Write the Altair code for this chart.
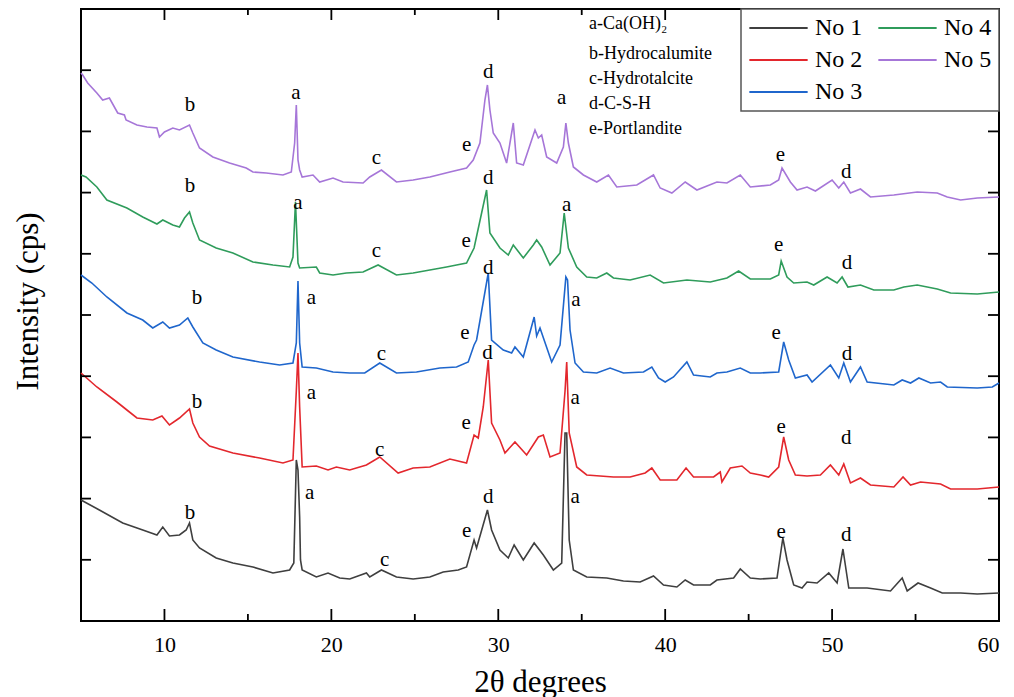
import altair as alt
import pandas as pd

# 2-theta (degrees) vs intensity (arbitrary cps, stacked offsets)
NO1 = [(5.0,121),(6.1,111),(7.5,98),(8.7,91),(9.55,86),(9.9,94),(10.3,85),(10.9,86),(11.3,91),(11.5,98),
       (11.7,81),(12.1,73),(13.1,63),(14.1,58),(15.3,54),(16.5,48),(17.5,51),(17.75,58),(17.9,161),(18.0,151),
       (18.1,104),(18.15,61),(18.25,51),(19.1,44),(19.8,48),(20.5,43),(21.1,42),(22.1,48),(22.3,44),(23.0,51),
       (23.9,44),(24.9,42),(25.9,44),(26.7,49),(27.6,51),(28.1,54),(28.55,81),(28.7,73),(29.35,111),(29.6,91),
       (30.1,71),(30.6,63),(30.95,76),(31.5,61),(32.15,78),(32.7,66),(33.3,51),(33.8,58),(34.0,188),(34.1,188),
       (34.25,81),(34.5,51),(35.3,44),(36.5,43),(37.5,40),(38.5,39),(39.3,45),(39.9,36),(40.7,34),(41.2,41),
       (41.7,36),(42.7,36),(43.1,41),(44.1,43),(44.5,52),(45.1,43),(45.7,42),(46.7,43),(47.05,83),(47.3,61),
       (47.7,36),(48.2,33),(48.5,39),(49.1,38),(49.8,48),(50.3,38),(50.65,72),(51.0,33),(52.1,33),(53.5,30),
       (54.2,43),(54.5,30),(55.15,38),(55.9,33),(56.6,28),(57.7,28),(58.7,27),(60.0,28)]

NO2 = [(5.0,248),(5.95,234),(7.15,219),(7.75,211),(8.35,203),(9.3,201),(9.85,205),(10.3,196),(10.9,203),(11.5,212),
       (11.7,198),(12.1,184),(12.7,175),(14.1,168),(15.7,163),(17.1,158),(17.7,161),(17.9,230),(18.0,268),(18.1,214),
       (18.25,154),(19.1,155),(19.8,151),(20.3,154),(21.1,151),(22.1,156),(22.9,164),(24.0,148),(24.9,153),(25.9,154),
       (27.1,162),(28.1,158),(28.55,186),(28.8,183),(29.1,214),(29.4,261),(29.6,198),(30.1,181),(30.4,168),(31.0,179),
       (31.7,166),(32.4,184),(32.7,186),(33.1,164),(33.7,168),(34.0,230),(34.1,259),(34.25,188),(34.7,154),(35.3,146),
       (36.9,144),(37.9,144),(38.8,148),(39.2,153),(39.7,141),(40.7,141),(41.25,153),(41.7,144),(42.9,144),(43.3,149),
       (43.4,139),(43.9,153),(44.6,155),(45.1,148),(45.7,146),(46.2,144),(46.8,154),(47.1,184),(47.4,161),(47.8,146),
       (48.5,145),(49.3,146),(49.9,156),(50.4,146),(50.7,157),(51.1,138),(51.7,143),(52.3,136),(53.7,134),(54.25,144),
       (54.7,136),(55.3,139),(56.5,137),(57.1,132),(58.7,132),(60.0,134)]

NO3 = [(5.0,346),(5.65,338),(6.55,324),(7.75,308),(8.7,301),(9.3,293),(9.9,299),(10.3,293),(10.9,296),(11.4,303),
       (11.7,294),(12.3,278),(13.1,271),(14.1,264),(15.7,259),(16.9,256),(17.7,258),(17.9,278),(18.0,340),(18.1,278),
       (18.25,254),(19.1,253),(20.1,249),(21.1,248),(22.0,248),(22.9,258),(23.9,248),(25.1,249),(26.5,253),(27.5,254),
       (28.2,259),(28.55,276),(28.7,281),(29.4,348),(29.6,281),(30.3,271),(30.8,268),(31.0,274),(31.5,264),(32.15,304),
       (32.3,285),(32.5,293),(33.2,259),(33.7,276),(34.05,344),(34.15,341),(34.3,291),(34.6,258),(35.1,249),(35.9,248),
       (36.7,253),(37.5,248),(38.7,249),(39.2,254),(39.6,243),(40.0,239),(40.5,244),(41.3,259),(41.7,246),(42.7,244),
       (43.1,248),(43.7,249),(44.5,253),(45.1,248),(45.7,248),(46.8,249),(47.1,279),(47.4,261),(47.8,243),(48.5,246),
       (48.8,239),(49.9,256),(50.4,243),(50.7,258),(51.1,239),(51.7,254),(52.1,239),(53.7,236),(54.2,241),(54.7,238),
       (55.2,243),(55.9,238),(56.5,239),(56.9,234),(58.7,233),(59.6,234),(60.0,238)]

NO4 = [(5.0,446),(5.3,444),(5.95,434),(6.55,421),(7.75,413),(8.7,404),(9.55,397),(9.9,401),(10.5,396),(10.9,394),
       (11.2,403),(11.5,409),(11.7,398),(12.1,381),(13.1,373),(14.1,368),(15.3,359),(16.5,356),(17.5,354),(17.7,364),
       (17.85,419),(18.0,358),(18.1,353),(19.1,354),(19.3,348),(20.1,346),(20.9,348),(21.9,349),(22.8,356),(23.9,346),
       (24.9,348),(25.9,351),(26.9,354),(27.5,356),(28.1,358),(28.55,373),(29.3,431),(29.5,388),(30.1,373),(30.6,366),
       (30.9,376),(31.5,363),(32.1,376),(32.3,381),(32.6,374),(33.1,356),(33.7,368),(33.95,408),(34.2,373),(34.7,354),
       (35.3,344),(35.9,343),(36.5,348),(36.9,343),(37.9,341),(39.1,346),(39.9,338),(41.3,341),(42.7,339),(43.7,343),
       (44.4,350),(45.1,342),(46.3,342),(46.8,346),(46.95,360),(47.3,344),(47.7,338),(48.5,339),(48.9,336),(49.7,344),
       (50.3,338),(50.6,344),(50.95,334),(51.7,336),(52.5,331),(53.7,331),(54.3,334),(55.1,336),(56.3,332),(57.1,328),
       (58.7,327),(60.0,329)]

NO5 = [(5.0,548),(5.1,546),(5.4,538),(5.95,528),(6.3,521),(6.7,523),(7.2,508),(7.6,506),(7.7,501),(8.35,496),
       (8.95,494),(9.55,493),(9.7,484),(10.0,489),(10.5,493),(10.9,491),(11.5,496),(11.7,488),(12.1,473),(12.9,464),
       (13.9,458),(14.9,453),(15.3,449),(16.1,448),(17.1,446),(17.6,449),(17.8,478),(17.9,516),(18.0,461),(18.1,451),
       (18.25,444),(18.9,446),(19.3,439),(20.1,443),(20.7,439),(21.9,438),(22.3,444),(23.0,451),(23.9,439),(24.9,441),
       (25.9,444),(27.1,449),(28.1,453),(28.5,461),(28.9,478),(29.2,521),(29.35,536),(29.5,511),(29.7,488),(30.1,478),
       (30.5,458),(30.9,498),(31.1,458),(31.5,456),(32.0,481),(32.2,491),(32.4,483),(32.6,486),(32.9,464),(33.5,458),
       (33.9,474),(34.05,498),(34.2,478),(34.5,454),(35.1,446),(35.9,439),(36.6,446),(37.1,434),(38.3,436),(39.3,446),
       (39.7,433),(40.4,428),(41.2,439),(41.9,431),(43.1,439),(43.7,438),(44.5,446),(45.1,434),(46.3,436),(46.8,441),
       (47.0,453),(47.5,439),(47.9,431),(48.5,434),(49.0,430),(50.0,441),(50.4,433),(50.7,439),(51.1,428),(51.7,432),
       (52.3,424),(53.7,426),(55.1,429),(56.3,428),(56.9,424),(57.7,421),(58.7,423),(60.0,424)]

SERIES_NAMES = ["No 1", "No 2", "No 3", "No 4", "No 5"]
SERIES_DATA = [NO1, NO2, NO3, NO4, NO5]
SERIES_COLORS = ["#3f3f3f", "#e3272d", "#1f66cc", "#2f9c5b", "#a676d8"]

# peak labels: (letter, 2theta, intensity)
PEAK_LABELS = [
    ("b",11.53,516),("a",17.88,528),("c",22.7,463),("e",28.1,476),("d",29.4,549),("a",33.8,523),("e",46.9,466),("d",50.85,449),
    ("b",11.53,435),("a",18.0,418),("c",22.7,370),("e",28.07,380),("d",29.4,443),("a",34.1,416),("e",46.8,376),("d",50.9,358),
    ("b",11.95,323),("a",18.8,323),("c",23.0,267),("e",28.0,288),("d",29.4,353),("a",34.65,321),("e",46.65,288),("d",50.9,267),
    ("b",11.95,219),("a",18.8,228),("c",22.9,171),("e",28.07,198),("d",29.35,268),("a",34.6,223),("e",46.95,194),("d",50.85,183),
    ("b",11.53,108),("a",18.7,128),("c",23.2,61),("e",28.1,90),("d",29.4,124),("a",34.6,124),("e",46.95,89),("d",50.85,86),
]

PHASE_TEXT = ["a-Ca(OH)₂", "b-Hydrocalumite", "c-Hydrotalcite", "d-C-S-H", "e-Portlandite"]
PHASE_Y = [597, 567, 542, 517, 492]
PHASE_X = 35.44

X_MAJOR = [10, 20, 30, 40, 50]
X_MINOR = [15, 25, 35, 45, 55]
Y_TICKS = [61.2 * k for k in range(1, 10)]

FONT = "Times New Roman, Liberation Serif, serif"

rows = []
for name, pts in zip(SERIES_NAMES, SERIES_DATA):
    for tt, v in pts:
        rows.append({"series": name, "two_theta": tt, "intensity": v})
df = pd.DataFrame(rows)

lab_df = pd.DataFrame(PEAK_LABELS, columns=["label", "two_theta", "intensity"])
phase_df = pd.DataFrame({"label": PHASE_TEXT, "two_theta": [PHASE_X] * 5, "intensity": PHASE_Y})

x_scale = alt.Scale(domain=[5, 60], nice=False, zero=False)
y_scale = alt.Scale(domain=[0, 612], nice=False, zero=False)

X_AXIS = alt.Axis(title="2θ degrees", values=[10, 20, 30, 40, 50, 60], ticks=False, domain=False, grid=False,
                  labelFont=FONT, labelFontSize=22, labelColor="black", labelPadding=13,
                  titleFont=FONT, titleFontSize=31, titleFontWeight="normal", titleColor="black", titlePadding=12)
Y_AXIS = alt.Axis(title="Intensity (cps)", labels=False, ticks=False, domain=False, grid=False,
                  titleFont=FONT, titleFontSize=31, titleFontWeight="normal", titleColor="black",
                  titlePadding=37, titleY=292)

color_scale = alt.Scale(domain=SERIES_NAMES, range=SERIES_COLORS)

lines = alt.Chart(df).mark_line(strokeWidth=1.6).encode(
    x=alt.X("two_theta:Q", scale=x_scale, axis=X_AXIS),
    y=alt.Y("intensity:Q", scale=y_scale, axis=Y_AXIS),
    color=alt.Color("series:N", scale=color_scale,
                    legend=alt.Legend(title=None, orient="none", legendX=660, legendY=0, columns=2,
                                      symbolType="stroke", symbolSize=3400, symbolStrokeWidth=2,
                                      labelFont=FONT, labelFontSize=24, labelColor="black", labelOffset=6,
                                      rowPadding=8, columnPadding=14, padding=7, clipHeight=24,
                                      strokeColor="#555555", fillColor="white")),
)

labels = alt.Chart(lab_df).mark_text(font=FONT, fontSize=21, color="black", baseline="middle", align="center").encode(
    x=alt.X("two_theta:Q", scale=x_scale, axis=X_AXIS),
    y=alt.Y("intensity:Q", scale=y_scale, axis=Y_AXIS),
    text="label:N",
)

phases = alt.Chart(phase_df).mark_text(font=FONT, fontSize=18, color="black", baseline="middle", align="left").encode(
    x=alt.X("two_theta:Q", scale=x_scale, axis=X_AXIS),
    y=alt.Y("intensity:Q", scale=y_scale, axis=Y_AXIS),
    text="label:N",
)

xmaj = pd.DataFrame({"two_theta": X_MAJOR})
xmin = pd.DataFrame({"two_theta": X_MINOR})
yt = pd.DataFrame({"intensity": Y_TICKS})

def xtick(d, y0, y1):
    return alt.Chart(d).mark_rule(color="black", strokeWidth=1.8).encode(
        x=alt.X("two_theta:Q", scale=x_scale, axis=X_AXIS), y=alt.value(y0), y2=alt.value(y1))

def ytick(x0, x1):
    return alt.Chart(yt).mark_rule(color="black", strokeWidth=1.8).encode(
        y=alt.Y("intensity:Q", scale=y_scale, axis=Y_AXIS), x=alt.value(x0), x2=alt.value(x1))

ticks = [xtick(xmaj, 612, 600), xtick(xmin, 612, 605), xtick(xmaj, 0, 11), xtick(xmin, 0, 6),
         ytick(0, 10), ytick(918, 907)]

chart = alt.layer(lines, labels, phases, *ticks).properties(
    width=918, height=612,
    padding={"left": 81, "top": 9, "right": 15, "bottom": 76},
    autosize=alt.AutoSizeParams(type="none"),
    background="white",
).configure_view(stroke="black", strokeWidth=2).configure_legend(strokeWidth=1.5)

chart.save("out.html", embed_options={"renderer": "svg", "actions": False})
